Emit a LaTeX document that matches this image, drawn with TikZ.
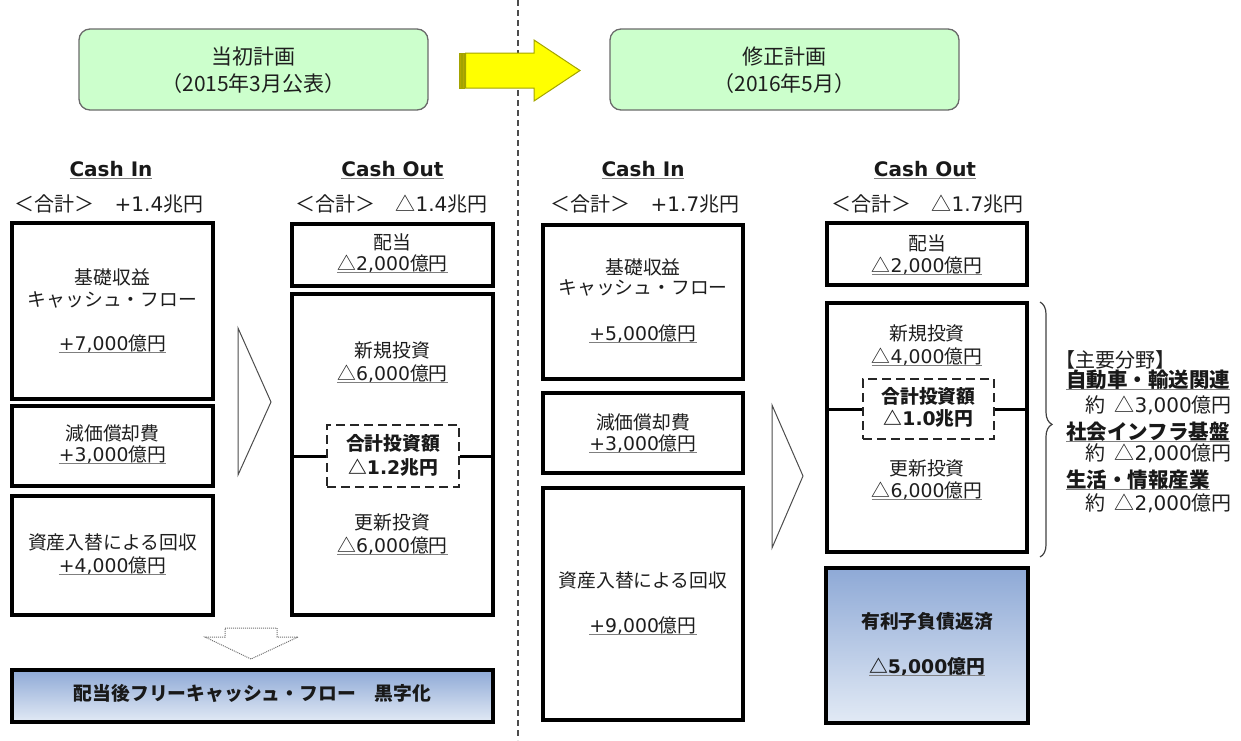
\documentclass[tikz,border=0pt]{standalone}
\usepackage{fontspec}
\setmainfont{Noto Sans CJK JP}
\newfontfamily\lat{DejaVu Sans}
\usetikzlibrary{decorations.pathreplacing}
\definecolor{txt}{HTML}{1E1E1E}
\definecolor{hdrfill}{HTML}{CCFFCC}
\definecolor{hdrline}{HTML}{6A6A6A}
\definecolor{ulgray}{HTML}{7F7F7F}
\definecolor{blueTop}{HTML}{8EA9D6}
\definecolor{blueBot}{HTML}{E2EAF5}
\definecolor{arrowYellow}{HTML}{FFFF00}
\definecolor{arrowLine}{HTML}{A3A300}
\definecolor{stripe}{HTML}{B5A800}
\newsavebox\ulbox
\newcommand\ulx[1]{\sbox\ulbox{#1}\rlap{\usebox\ulbox}\textcolor{ulgray}{\rule[-3.4pt]{\wd\ulbox}{1.3pt}}}
\newcommand\fs[1]{\fontsize{#1}{#1}\selectfont}
\tikzset{
  box/.style={draw=black, line width=3.3pt, fill=white, inner sep=0pt},
  sumbox/.style={draw=black!85, line width=2.2pt, dash pattern=on 9pt off 5pt, fill=white, inner sep=0pt},
  gradbox/.style={draw=black, line width=3.3pt, inner sep=0pt, top color=blueTop, bottom color=blueBot},
  hdr/.style={draw=hdrline, line width=1.3pt, fill=hdrfill, rounded corners=11pt, inner sep=0pt},
  t/.style={anchor=base, inner sep=0pt, text=txt, font=\fs{18.8}},
  tt/.style={anchor=base, inner sep=0pt, text=txt, font=\fs{20}},
  tb/.style={anchor=base, inner sep=0pt, text=black!90, font=\fs{18.8}\bfseries},
  ta/.style={anchor=base, inner sep=0pt, text=txt, font=\fs{20}},
  tab/.style={anchor=base west, inner sep=0pt, text=black!90, font=\fs{20.5}\bfseries},
  th/.style={anchor=base, inner sep=0pt, text=txt, font=\fs{21}},
  tcash/.style={anchor=base, inner sep=0pt, text=black!90, font=\fs{20}\lat\bfseries},
  tri/.style={draw=black!70, line width=1pt},
  dotarrow/.style={draw=black!55, line width=1pt, dash pattern=on 1pt off 1pt, fill=white},
  divider/.style={draw=black!70, line width=1.2pt, dash pattern=on 6pt off 4pt},
  joint/.style={draw=black, line width=3pt},
  bracestyle/.style={draw=black!75, line width=1.2pt, decorate, decoration={brace, amplitude=12pt, aspect=0.48}},
}
\begin{document}
\begin{tikzpicture}[x=1pt, y=-1pt]
\useasboundingbox (0,0) rectangle (1241,740);
% divider
\draw[divider] (518,0) -- (518,740);
% headers
\node[hdr, minimum width=349pt, minimum height=81pt] (h1) at (253.5,69.5) {};
\node[th] (h1a) at (253.5,64) {当初計画};
\node[th] (h1b) at (253.5,91) {（2015年3月公表）};
\node[hdr, minimum width=349pt, minimum height=81pt] (h2) at (784.5,69.5) {};
\node[th] (h2a) at (784.5,64) {修正計画};
\node[th] (h2b) at (784.5,91) {（2016年5月）};
% yellow striped arrow
\fill[stripe, draw=arrowLine, line width=0.6pt] (459,53) rectangle (461.5,88);
\fill[stripe, draw=arrowLine, line width=0.6pt] (462.5,53) rectangle (464.5,88);
\draw[fill=arrowYellow, draw=arrowLine, line width=1pt] (465.5,53) -- (534,53) -- (534,40) -- (580,70.5) -- (534,101) -- (534,88) -- (465.5,88) -- cycle;

% ===== left plan =====
\node[tcash] (ciL) at (111,176) {\ulx{Cash In}};
\node[tcash] (coL) at (392.5,176) {\ulx{Cash Out}};
\node[tt] (totInL) at (109,211) {＜合計＞　{\lat +1.4}兆円};
\node[tt] (totOutL) at (391.5,211) {＜合計＞　△{\lat 1.4}兆円};

\node[box, minimum width=201pt, minimum height=176pt] (inA) at (112.5,311) {};
\node[box, minimum width=201pt, minimum height=80pt] (inB) at (112.5,446) {};
\node[box, minimum width=201pt, minimum height=119pt] (inC) at (112.5,555.5) {};
\node[box, minimum width=201pt, minimum height=62pt] (divL) at (392.5,255) {};
\node[box, minimum width=201pt, minimum height=321pt] (invL) at (392.5,454.5) {};
\node[sumbox, minimum width=132pt, minimum height=62pt] (sumL) at (393,456) {};
\draw[joint] (invL.west |- sumL.center) -- (sumL.west);
\draw[joint] (sumL.east) -- (invL.east |- sumL.center);

\node[t] (inA1) at (112.5,284) {基礎収益};
\node[t] (inA2t) at (112.5,306) {キャッシュ・フロー};
\node[t] (inA3) at (112.5,350) {\ulx{{\lat +7,000}億円}};
\node[t] (inB1) at (112.5,440) {減価償却費};
\node[t] (inB2t) at (112.5,461) {\ulx{{\lat +3,000}億円}};
\node[t] (inC1) at (112.5,549) {資産入替による回収};
\node[t] (inC2t) at (112.5,572) {\ulx{{\lat +4,000}億円}};

\node[t] (divL1) at (392.5,249) {配当};
\node[t] (divL2) at (392.5,270) {\ulx{△{\lat 2,000}億円}};
\node[t] (newL1) at (392.5,357) {新規投資};
\node[t] (newL2) at (392.5,380) {\ulx{△{\lat 6,000}億円}};
\node[tb] (sumL1) at (393,450) {合計投資額};
\node[tb] (sumL2) at (393,474) {△{\lat 1.2}兆円};
\node[t] (updL1) at (392.5,529) {更新投資};
\node[t] (updL2) at (392.5,552) {\ulx{△{\lat 6,000}億円}};

\draw[tri] (238,328) -- (271,402) -- (238,475) -- cycle;
\draw[dotarrow] (225,628) -- (277,628) -- (277,637) -- (298,637) -- (251,659) -- (205,637) -- (225,637) -- cycle;

\node[gradbox, minimum width=481pt, minimum height=52pt] (fcf) at (252.5,696) {};
\node[tb] (fcft) at (252.5,700) {配当後フリーキャッシュ・フロー　黒字化};

% ===== right plan =====
\node[tcash] (ciR) at (643,176) {\ulx{Cash In}};
\node[tcash] (coR) at (925,176) {\ulx{Cash Out}};
\node[tt] (totInR) at (645,211) {＜合計＞　{\lat +1.7}兆円};
\node[tt] (totOutR) at (927.5,211) {＜合計＞　△{\lat 1.7}兆円};

\node[box, minimum width=200pt, minimum height=154pt] (rinA) at (643,302) {};
\node[box, minimum width=200pt, minimum height=80pt] (rinB) at (643,433) {};
\node[box, minimum width=200pt, minimum height=232pt] (rinC) at (643,604) {};
\node[box, minimum width=200pt, minimum height=62pt] (divR) at (927,254) {};
\node[box, minimum width=200pt, minimum height=249pt] (invR) at (927,427.5) {};
\node[sumbox, minimum width=131pt, minimum height=60pt] (sumR) at (928.5,409) {};
\draw[joint] (invR.west |- sumR.center) -- (sumR.west);
\draw[joint] (sumR.east) -- (invR.east |- sumR.center);
\node[gradbox, minimum width=202pt, minimum height=155pt] (debt) at (927,645.5) {};

\node[t] (rinA1) at (643,274) {基礎収益};
\node[t] (rinA2t) at (643,294) {キャッシュ・フロー};
\node[t] (rinA3) at (643,340) {\ulx{{\lat +5,000}億円}};
\node[t] (rinB1) at (643,429) {減価償却費};
\node[t] (rinB2t) at (643,450) {\ulx{{\lat +3,000}億円}};
\node[t] (rinC1) at (643,587) {資産入替による回収};
\node[t] (rinC2t) at (643,632) {\ulx{{\lat +9,000}億円}};

\node[t] (divR1) at (927,250) {配当};
\node[t] (divR2) at (927,272) {\ulx{△{\lat 2,000}億円}};
\node[t] (newR1) at (927,340) {新規投資};
\node[t] (newR2) at (927,363) {\ulx{△{\lat 4,000}億円}};
\node[tb] (sumR1) at (928.5,403) {合計投資額};
\node[tb] (sumR2) at (928.5,425) {△{\lat 1.0}兆円};
\node[t] (updR1) at (927,475) {更新投資};
\node[t] (updR2) at (927,497) {\ulx{△{\lat 6,000}億円}};

\node[tb] (debt1) at (927,628) {有利子負債返済};
\node[tb] (debt2) at (927,673) {\ulx{△{\lat 5,000}億円}};

\draw[tri] (772,405) -- (803,476) -- (772,548) -- cycle;

% brace and fields
\coordinate (brTop) at (1040,302);
\coordinate (brBot) at (1040,557);
\draw[bracestyle] (brTop) -- (brBot);
\node[ta, anchor=base west] (fld) at (1055,367) {【主要分野】};
\node[tab] (f1) at (1066,387) {\ulx{自動車・輸送関連}};
\node[ta, anchor=base east] (f1v) at (1232,412) {約\hspace{0.45em}△{\lat 3,000}億円};
\node[tab] (f2) at (1066,439) {\ulx{社会インフラ基盤}};
\node[ta, anchor=base east] (f2v) at (1232,460) {約\hspace{0.45em}△{\lat 2,000}億円};
\node[tab] (f3) at (1066,487) {\ulx{生活・情報産業}};
\node[ta, anchor=base east] (f3v) at (1232,510) {約\hspace{0.45em}△{\lat 2,000}億円};
\end{tikzpicture}
\end{document}
